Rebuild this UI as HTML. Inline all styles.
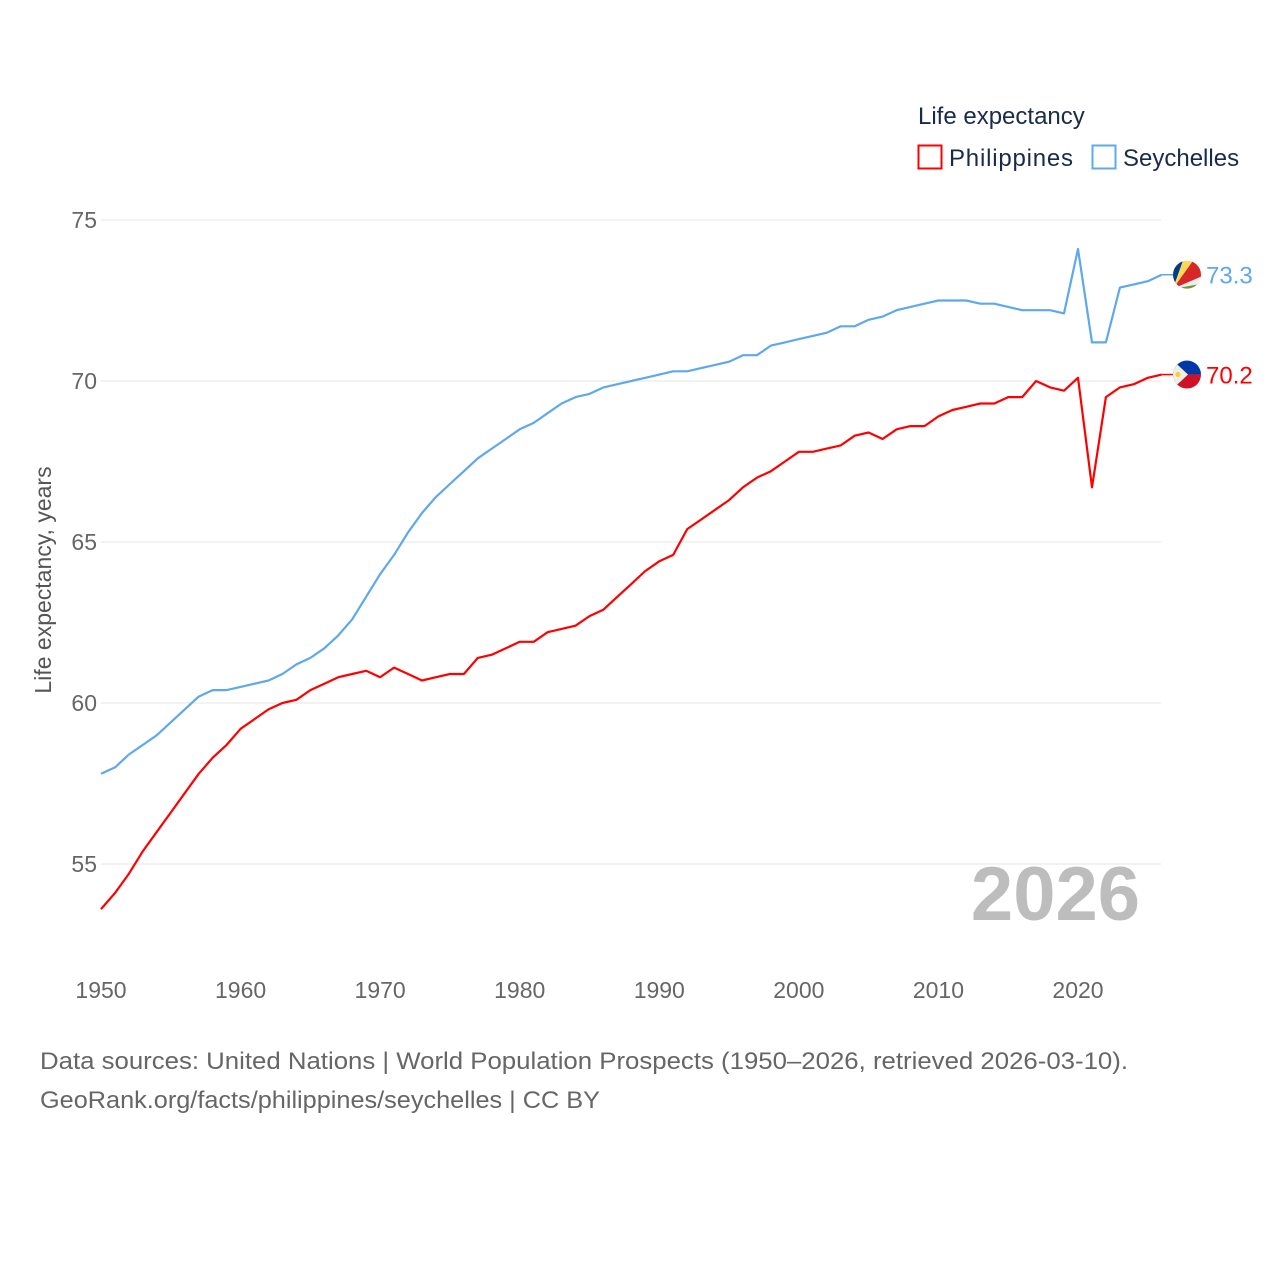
<!DOCTYPE html>
<html><head><meta charset="utf-8"><style>
body{margin:0;background:#fff;font-family:"Liberation Sans",sans-serif;}
svg text{font-family:"Liberation Sans",sans-serif;}
</style></head><body>
<svg id="chart" width="1280" height="1280" viewBox="0 0 1280 1280" xmlns="http://www.w3.org/2000/svg">
<g id="grid"></g>
<g id="yticks"></g>
<g id="xticks"></g>
<text transform="translate(51,580) rotate(-90)" text-anchor="middle" font-size="23" fill="#555">Life expectancy, years</text>
<text x="1140" y="920" text-anchor="end" font-size="76" font-weight="bold" fill="#bdbdbd">2026</text>
<g id="series"></g>
<g>
<text x="918" y="124" font-size="24" fill="#1a2a4a">Life expectancy</text>
<rect x="918.5" y="145.5" width="23" height="23" fill="none" stroke="#ff0000" stroke-width="2"/>
<text x="949" y="166" font-size="24" fill="#1a2a4a" textLength="124">Philippines</text>
<rect x="1092.5" y="145.5" width="23" height="23" fill="none" stroke="#5ea8ee" stroke-width="2"/>
<text x="1123" y="166" font-size="24" fill="#1a2a4a">Seychelles</text>
</g>
<text x="40" y="1069" font-size="24" fill="#666" textLength="1088" lengthAdjust="spacingAndGlyphs">Data sources: United Nations | World Population Prospects (1950–2026, retrieved 2026-03-10).</text>
<text x="40" y="1108" font-size="24" fill="#666" textLength="560" lengthAdjust="spacingAndGlyphs">GeoRank.org/facts/philippines/seychelles | CC BY</text>
</svg>
<script>
const years = [];
for (let y = 1950; y <= 2026; y++) years.push(y);
const philippines = [53.6,54.1,54.7,55.4,56.0,56.6,57.2,57.8,58.3,58.7,59.2,59.5,59.8,60.0,60.1,60.4,60.6,60.8,60.9,61.0,60.8,61.1,60.9,60.7,60.8,60.9,60.9,61.4,61.5,61.7,61.9,61.9,62.2,62.3,62.4,62.7,62.9,63.3,63.7,64.1,64.4,64.6,65.4,65.7,66.0,66.3,66.7,67.0,67.2,67.5,67.8,67.8,67.9,68.0,68.3,68.4,68.2,68.5,68.6,68.6,68.9,69.1,69.2,69.3,69.3,69.5,69.5,70.0,69.8,69.7,70.1,66.7,69.5,69.8,69.9,70.1,70.2];
const seychelles = [57.8,58.0,58.4,58.7,59.0,59.4,59.8,60.2,60.4,60.4,60.5,60.6,60.7,60.9,61.2,61.4,61.7,62.1,62.6,63.3,64.0,64.6,65.3,65.9,66.4,66.8,67.2,67.6,67.9,68.2,68.5,68.7,69.0,69.3,69.5,69.6,69.8,69.9,70.0,70.1,70.2,70.3,70.3,70.4,70.5,70.6,70.8,70.8,71.1,71.2,71.3,71.4,71.5,71.7,71.7,71.9,72.0,72.2,72.3,72.4,72.5,72.5,72.5,72.4,72.4,72.3,72.2,72.2,72.2,72.1,74.1,71.2,71.2,72.9,73.0,73.1,73.3];
const yTicks = [55,60,65,70,75];
const xTicks = [1950,1960,1970,1980,1990,2000,2010,2020];

const NS = "http://www.w3.org/2000/svg";
const X = yr => 101 + (yr - 1950) * (977 / 70);
const Y = v => 220 + (75 - v) * 32.2;
function mk(tag, attrs, parent){const e=document.createElementNS(NS,tag);for(const k in attrs)e.setAttribute(k,attrs[k]);parent.appendChild(e);return e;}

const grid=document.getElementById('grid'), yt=document.getElementById('yticks'), xt=document.getElementById('xticks');
yTicks.forEach(t=>{
  const l=mk('line',{x1:101,x2:1161,y1:Y(t),y2:Y(t),stroke:'#e6e6e6','stroke-width':1},grid);
  
  
  const tx=mk('text',{x:97,y:Y(t)+8,'text-anchor':'end','font-size':23,fill:'#666'},yt);
  tx.textContent=t;
  
  
});
xTicks.forEach(t=>{
  const tx=mk('text',{x:X(t),y:998,'text-anchor':'middle','font-size':23,fill:'#666'},xt);
  tx.textContent=t;
  
  
});

const sg=document.getElementById('series');
function line(vals,color,name){
  const d=vals.map((v,i)=>(i?'L':'M')+X(years[i]).toFixed(1)+','+Y(v).toFixed(1)).join('');
  const p=mk('path',{d:d,fill:'none',stroke:color,'stroke-width':2.2,'stroke-linejoin':'round'},sg);
  
  
  const last=vals[vals.length-1], ly=Y(last);
  const t=mk('text',{x:1206,y:ly+9,'font-size':24,fill:color},sg);
  t.textContent=last.toFixed(1);
  
  
  return ly;
}
const sy=line(seychelles,'#5ea8ee','seychelles');
const py=line(philippines,'#ff0000','philippines');

function flagSey(cy){
  const g=mk('g',{},sg);
  
  
  const cx=1187,r=14;
  const cp=mk('clipPath',{id:'cs'},g);mk('circle',{cx:cx,cy:cy,r:r},cp);
  const h=mk('g',{'clip-path':'url(#cs)'},g);
  const bx=cx-r,by=cy+r;
  mk('rect',{x:cx-r,y:cy-r,width:2*r,height:2*r,fill:'#eee'},h);
  mk('polygon',{points:`${bx},${by} ${bx},${cy-r} ${bx+10},${cy-r}`,fill:'#003f87'},h);
  mk('polygon',{points:`${bx},${by} ${bx+10},${cy-r} ${bx+20},${cy-r}`,fill:'#fcd856'},h);
  mk('polygon',{points:`${bx},${by} ${bx+20},${cy-r} ${cx+r},${cy-r} ${cx+r},${cy+2}`,fill:'#d62828'},h);
  mk('polygon',{points:`${bx},${by} ${cx+r},${cy+9} ${cx+r},${by}`,fill:'#6a9a3d'},h);
  mk('polygon',{points:`${bx},${by} ${cx+r},${cy+2} ${cx+r},${cy+9}`,fill:'#eee'},h);
}
function flagPh(cy){
  const g=mk('g',{},sg);
  
  
  const cx=1187,r=14;
  const cp=mk('clipPath',{id:'cp'},g);mk('circle',{cx:cx,cy:cy,r:r},cp);
  const h=mk('g',{'clip-path':'url(#cp)'},g);
  mk('rect',{x:cx-r,y:cy-r,width:2*r,height:r,fill:'#0038a8'},h);
  mk('rect',{x:cx-r,y:cy,width:2*r,height:r,fill:'#ce1126'},h);
  mk('polygon',{points:`${cx-r},${cy-r} ${cx+1},${cy} ${cx-r},${cy+r}`,fill:'#eee'},h);
  mk('circle',{cx:cx-9,cy:cy,r:2.5,fill:'#fcd116'},h);
}
mk('line',{x1:X(2026),x2:1174,y1:sy,y2:sy,stroke:'#5ea8ee','stroke-width':1.5},sg);
mk('line',{x1:X(2026),x2:1174,y1:py,y2:py,stroke:'#ff0000','stroke-width':1.5},sg);
flagSey(sy);
flagPh(py);
</script>
</body></html>
